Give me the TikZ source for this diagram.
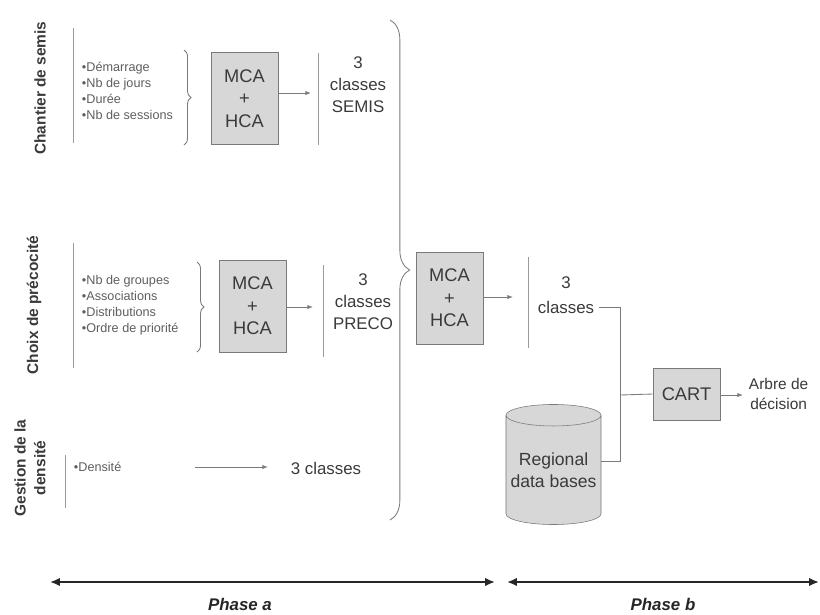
\documentclass[tikz,border=0pt]{standalone}
\usepackage{fontspec}
\setmainfont{Liberation Sans}
\usetikzlibrary{decorations.pathreplacing,shapes.geometric,arrows.meta}
\definecolor{boxgray}{HTML}{D7D7D7}
\definecolor{linegray}{HTML}{7A7A7A}
\definecolor{bargray}{HTML}{9A9A9A}
\definecolor{txtgray}{HTML}{5E5E5E}
\definecolor{darktxt}{HTML}{3A3A3A}
\begin{document}
\begin{tikzpicture}[x=0.025cm, y=-0.025cm, >={Latex[length=4pt,width=3pt]},
    every node/.style={text=darktxt},
    rowlabel/.style={rotate=90, align=center, font=\fontsize{11}{14}\selectfont\bfseries},
    items/.style={anchor=west, align=left, text=txtgray, font=\fontsize{9}{11.4}\selectfont},
    anabox/.style={draw=linegray, fill=boxgray, minimum width=1.675cm, minimum height=2.3cm,
      inner sep=0pt, align=center, font=\fontsize{13}{16}\selectfont},
    classtxt/.style={align=center, font=\fontsize{12}{15.6}\selectfont},
    bar/.style={bargray, line width=0.7pt},
    conn/.style={linegray, line width=0.6pt},
    brc/.style={decorate, decoration={brace, amplitude=#1}, linegray, line width=0.6pt},
    phase/.style={<->, >={Latex[length=7pt,width=6pt]}, line width=2pt, black!85},
  ]
  \useasboundingbox (0,0) rectangle (820,614);
  % Chantier de semis
  \node[rowlabel] (lsemis) at (40,88) {Chantier de semis};
  \draw[bar] (73,28) -- (73,143);
  \node[items] (vsemis) at (77,91) {•Démarrage\\•Nb de jours\\•Durée\\•Nb de sessions};
  \draw[brc=5pt] (184,50) -- (184,145);
  \node[anabox] (acm1) at (244.5,98.5) {MCA\\+\\HCA};
  \coordinate (in1) at (311,93);
  \draw[conn,->] (acm1.east |- in1) -- (in1);
  \draw[bar] (318,53) -- (318,145);
  \node[classtxt] (csemis) at (358,85) {3\\classes\\SEMIS};
  % Choix de precocite
  \node[rowlabel] (lpreco) at (34,305) {Choix de précocité};
  \draw[bar] (73,243) -- (73,368);
  \node[items] (vpreco) at (77,305) {•Nb de groupes\\•Associations\\•Distributions\\•Ordre de priorité};
  \draw[brc=5pt] (197,262) -- (197,352);
  \node[anabox] (acm2) at (252.5,306) {MCA\\+\\HCA};
  \coordinate (in2) at (313,307);
  \draw[conn,->] (acm2.east |- in2) -- (in2);
  \draw[bar] (323,265) -- (323,357);
  \node[classtxt] (cpreco) at (363,302) {3\\classes\\PRECO};
  % Gestion de la densite
  \node[rowlabel] (ldens) at (30,468) {Gestion de la\\densité};
  \draw[bar] (65,455) -- (65,508);
  \node[items] (vdens) at (69,467) {•Densité};
  \node[classtxt] (cdens) at (326,468) {3 classes};
  \coordinate (d0) at (195,467);
  \coordinate (d1) at (268,467);
  \draw[conn,->] (d0) -- (d1);
  % regroupement
  \draw[brc=14pt] (390,20) -- (390,520);
  \node[anabox] (acm3) at (449.5,298) {MCA\\+\\HCA};
  \coordinate (in3) at (513,297);
  \draw[conn,->] (acm3.east |- in3) -- (in3);
  \draw[bar] (528,257) -- (528,348);
  \node[classtxt] (cfin3) at (566,283) {3};
  \node[classtxt] (cfin) at (566,307) {classes};
  % phase b
  \node[draw=linegray, fill=boxgray, cylinder, shape border rotate=90, aspect=0.25,
    minimum width=2.375cm, minimum height=3cm, inner sep=0pt, align=center,
    cylinder uses custom fill, cylinder body fill=boxgray, cylinder end fill=boxgray!60,
    font=\fontsize{12.5}{15.6}\selectfont] (db) at (553.5,470) {Regional\\data bases};
  \coordinate (jn) at (620,395);
  \coordinate (dbin) at (620,461);
  \draw[conn] (cfin.east) -| (jn) -- (dbin) -- (db.east |- dbin);
  \node[anabox, minimum height=1.3cm] (cart) at (686.5,394) {CART};
  \draw[conn] (jn) -- (cart.west);
  \coordinate (in4) at (743,395);
  \draw[conn,->] (cart.east |- in4) -- (in4);
  \node[classtxt, anchor=west, font=\fontsize{11}{14}\selectfont] (tree) at (744,394) {Arbre de\\décision};
  % phases
  \coordinate (pa0) at (50,582);
  \coordinate (pa1) at (495,582);
  \coordinate (pb0) at (507,582);
  \coordinate (pb1) at (819,582);
  \draw[phase] (pa0) -- (pa1);
  \draw[phase] (pb0) -- (pb1);
  \node[font=\fontsize{12}{14}\selectfont\bfseries\itshape, text=black!85] (pha) at (240,604) {Phase a};
  \node[font=\fontsize{12}{14}\selectfont\bfseries\itshape, text=black!85] (phb) at (663,604) {Phase b};
\end{tikzpicture}
\end{document}
